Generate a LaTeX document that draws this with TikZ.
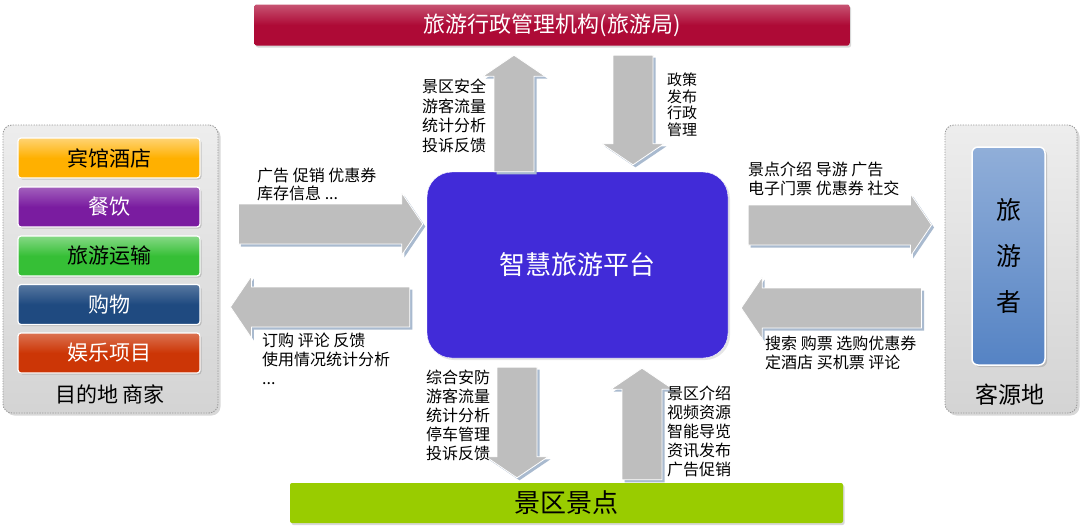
\documentclass[tikz,border=0pt]{standalone}
\usepackage{fontspec}
\setmainfont{Noto Sans CJK SC}
\usepackage{tikz}
\usetikzlibrary{calc, shadows}

\definecolor{admred}{HTML}{AE0A36}
\definecolor{platblue}{HTML}{412BD8}
\definecolor{spotgreen}{HTML}{99CC00}
\definecolor{hotelc}{HTML}{FFB000}
\definecolor{foodc}{HTML}{7A1CA0}
\definecolor{transc}{HTML}{36BF36}
\definecolor{shopc}{HTML}{1F4A80}
\definecolor{func}{HTML}{CC3606}
\definecolor{tourc}{HTML}{5583C4}
\definecolor{arrgray}{HTML}{BEBEBE}
\definecolor{arrshade}{HTML}{A9BACF}

\newcommand{\arrbody}{20pt}
\newcommand{\arrhead}{31pt}
\newcommand{\arrtip}{21pt}

\begin{document}
\begin{tikzpicture}[
  x=1pt, y=-1pt,
  group/.style={draw=gray!80, line width=0.9pt, dash pattern=on 1.3pt off 1.3pt, rounded corners=9pt,
                top color=gray!14, bottom color=gray!34,
                drop shadow={opacity=0.3, shadow xshift=2.5pt, shadow yshift=-2.5pt}},
  catbox/.style={draw=white, line width=1.2pt, rounded corners=3pt,
                 minimum width=182pt, minimum height=40pt,
                 font=\fontsize{21}{24}\selectfont,
                 drop shadow={opacity=0.35, shadow xshift=1.5pt, shadow yshift=-1.5pt}},
  bar/.style={rounded corners=2pt, inner sep=0pt,
              drop shadow={opacity=0.3, shadow xshift=1.5pt, shadow yshift=-2pt}},
  lbl/.style={anchor=west, align=left, inner sep=0pt, font=\fontsize{16}{19}\selectfont},
  blockarr/.style={fill=arrgray, draw=white, line width=0.8pt,
    drop shadow={fill=arrshade, opacity=1, shadow xshift=2.5pt, shadow yshift=-2.5pt},
    to path={
      ($(\tikztostart)!\arrbody!90:(\tikztotarget)$)
      -- ($(\tikztotarget)!\arrtip!(\tikztostart)!\arrbody!90:(\tikztotarget)$)
      -- ($(\tikztotarget)!\arrtip!(\tikztostart)!\arrhead!90:(\tikztotarget)$)
      -- (\tikztotarget)
      -- ($(\tikztotarget)!\arrtip!(\tikztostart)!\arrhead!-90:(\tikztotarget)$)
      -- ($(\tikztotarget)!\arrtip!(\tikztostart)!\arrbody!-90:(\tikztotarget)$)
      -- ($(\tikztostart)!\arrbody!-90:(\tikztotarget)$) -- cycle}}
]
\useasboundingbox[fill=white] (0,0) rectangle (1080,530);

% destination merchants
\node[group, minimum width=215pt, minimum height=288pt] (merch) at (110.5,269) {};
\node[catbox, top color=hotelc!55!white, bottom color=hotelc, middle color=hotelc] (hotel) at (109,158) {宾馆酒店};
\node[catbox, top color=foodc!70!white, bottom color=foodc, middle color=foodc, text=white] (food) at (109,207) {餐饮};
\node[catbox, top color=transc!60!white, bottom color=transc, middle color=transc] (trans) at (109,256) {旅游运输};
\node[catbox, top color=shopc!75!white, bottom color=shopc, middle color=shopc, text=white] (shop) at (109,304.5) {购物};
\node[catbox, top color=func!70!white, bottom color=func, middle color=func, text=white] (fun) at (109,353) {娱乐项目};
\node[font=\fontsize{21}{24}\selectfont] (merchlbl) at (110,394) {目的地 商家};

% tourist source
\node[group, minimum width=132pt, minimum height=288pt] (src) at (1011,269) {};
\node[draw=white, line width=1.5pt, rounded corners=6pt, top color=tourc!65!white, bottom color=tourc,
      minimum width=73pt, minimum height=218pt, align=center,
      font=\fontsize{25}{46}\selectfont,
      drop shadow={opacity=0.35, shadow xshift=2pt, shadow yshift=-2pt}] (tour) at (1008.5,256) {旅\\游\\者};
\node[font=\fontsize{23}{26}\selectfont] (srclbl) at (1010,395) {客源地};

% platform and the two bars
\node[fill=platblue, draw=white, rounded corners=25pt, minimum width=301pt, minimum height=186pt,
      text=white, font=\fontsize{26}{28}\selectfont,
      drop shadow={opacity=0.2, shadow xshift=2pt, shadow yshift=-2pt}] (plat) at (577.5,265) {智慧旅游平台};
\node[bar, top color=admred!70!white, bottom color=admred, middle color=admred,
      minimum width=595pt, minimum height=41pt, text=white,
      font=\fontsize{22}{24}\selectfont] (admin) at (552,25) {旅游行政管理机构(旅游局)};
\node[bar, fill=spotgreen, minimum width=553pt, minimum height=40pt,
      font=\fontsize{26}{28}\selectfont] (spot) at (566.5,503) {景区景点};

% block arrows
\draw[blockarr] ([xshift=20pt,yshift=45pt]merch.east) to ([xshift=-4pt,yshift=41pt]plat.west);
\draw[blockarr] ([xshift=-17pt,yshift=-42pt]plat.west) to ([xshift=12pt,yshift=-38pt]merch.east);
\draw[blockarr] ([xshift=20pt,yshift=40pt]plat.east) to ([xshift=-13pt,yshift=44pt]src.west);
\draw[blockarr] ([xshift=-23pt,yshift=-39pt]src.west) to ([xshift=13pt,yshift=-43pt]plat.east);
\draw[blockarr] ([xshift=-63.5pt]plat.north) to ([xshift=-38pt,yshift=-9.5pt]admin.south);
\draw[blockarr] ([xshift=81pt,yshift=-9.5pt]admin.south) to ([xshift=55.5pt,yshift=7pt]plat.north);
\draw[blockarr] ([xshift=-60.5pt,yshift=-9pt]plat.south) to ([xshift=-49.5pt,yshift=5pt]spot.north);
\draw[blockarr] ([xshift=75.5pt,yshift=3pt]spot.north) to ([xshift=64.5pt,yshift=-10pt]plat.south);

% arrow texts
\node[lbl, font=\fontsize{16}{18}\selectfont] (adtxt) at (257,184) {广告 促销 优惠券\\库存信息 ...};
\node[lbl] (ordtxt) at (262,359) {订购 评论 反馈\\使用情况统计分析\\...};
\node[lbl, font=\fontsize{16}{18.5}\selectfont] (infotxt) at (748,179) {景点介绍 导游 广告\\电子门票 优惠券 社交};
\node[lbl] (searchtxt) at (765,353) {搜索 购票 选购优惠券\\定酒店 买机票 评论};
\node[lbl, font=\fontsize{16}{19.5}\selectfont] (safetxt) at (422,116) {景区安全\\游客流量\\统计分析\\投诉反馈};
\node[lbl, font=\fontsize{15}{16.5}\selectfont] (policytxt) at (667,105) {政策\\发布\\行政\\管理};
\node[lbl] (guardtxt) at (426,415) {综合安防\\游客流量\\统计分析\\停车管理\\投诉反馈};
\node[lbl] (introtxt) at (667,431) {景区介绍\\视频资源\\智能导览\\资讯发布\\广告促销};
\end{tikzpicture}
\end{document}
